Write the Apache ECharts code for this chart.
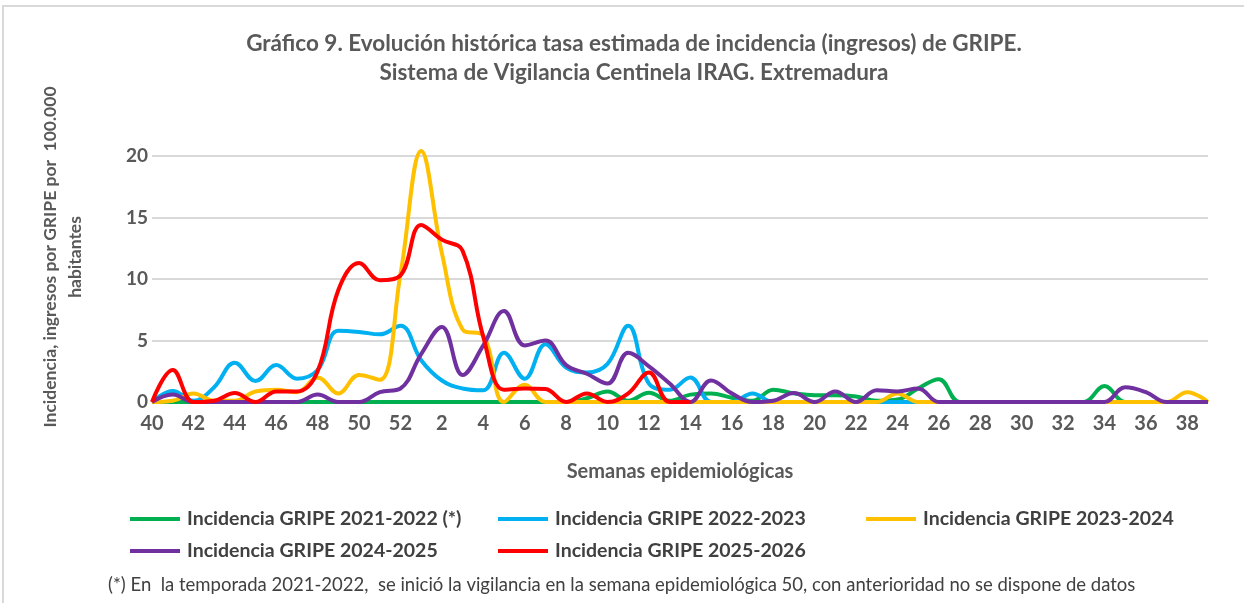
<!DOCTYPE html>
<html>
<head>
<meta charset="utf-8">
<script src="https://cdn.jsdelivr.net/npm/echarts@6/dist/echarts.min.js"></script>
<style>
  html, body { margin: 0; padding: 0; background: #fff; }
  #chart { width: 1244px; height: 603px; }
</style>
</head>
<body>
<div id="chart"></div>
<script>
// Semanas epidemiológicas 40..52, 1..39
const weeks = [40, 41, 42, 43, 44, 45, 46, 47, 48, 49, 50, 51, 52,
  1, 2, 3, 4, 5, 6, 7, 8, 9, 10, 11, 12, 13, 14, 15, 16, 17, 18, 19, 20,
  21, 22, 23, 24, 25, 26, 27, 28, 29, 30, 31, 32, 33, 34, 35, 36, 37, 38, 39];

const yTicks = [0, 5, 10, 15, 20];

const gripe2122 = [0, 0, 0, 0, 0, 0, 0, 0, 0, 0, 0, 0, 0,
  0, 0, 0, 0, 0, 0, 0, 0, 0.3, 0.85, 0.1, 0.75, 0.1, 0.6, 0.7, 0.35, 0.1, 1.0, 0.7, 0.55,
  0.55, 0.45, 0.1, 0.2, 1.1, 1.85, 0, 0, 0, 0, 0, 0, 0, 1.3, 0, 0, 0, 0, 0];

const gripe2223 = [0, 0.9, 0.1, 1.2, 3.2, 1.7, 3.0, 1.9, 2.6, 5.8, 5.7, 5.5, 6.2,
  3.4, 1.75, 1.1, 0.95, 4.0, 1.9, 4.7, 2.8, 2.4, 3.1, 6.2, 1.5, 1.0, 2.0, 0, 0, 0.7, 0, 0, 0,
  0, 0, 0, 0, 0, 0, 0, 0, 0, 0, 0, 0, 0, 0, 0, 0, 0, 0, 0];

const gripe2324 = [0, 0.1, 0.7, 0.1, 0.1, 0.86, 1.0, 0.8, 2.0, 0.7, 2.2, 1.8, 10.4,
  20.4, 12.1, 5.9, 5.4, 0, 1.4, 0, 0, 0, 0, 0, 0, 0, 0, 0, 0, 0, 0, 0, 0,
  0, 0, 0, 0.7, 0, 0, 0, 0, 0, 0, 0, 0, 0, 0, 0, 0, 0, 0.8, 0];

const gripe2425 = [0, 0.6, 0, 0, 0, 0, 0, 0, 0.6, 0, 0, 0.8, 1.1,
  3.9, 6.1, 2.2, 4.6, 7.4, 4.6, 5.0, 3.0, 2.3, 1.5, 4.0, 2.9, 1.5, 0, 1.75, 0.7, 0, 0.1, 0.73, 0,
  0.86, 0, 0.95, 0.86, 1.1, 0, 0, 0, 0, 0, 0, 0, 0, 0, 1.2, 0.8, 0, 0, 0];

const gripe2526 = [0, 2.6, 0, 0.1, 0.73, 0, 0.86, 0.86, 2.5, 9.1, 11.3, 9.9, 10.3,
  14.4, 13.2, 12.3, 5.3, 1.0, 1.1, 1.05, 0, 0.7, 0, 0.7, 2.4, 0, 0];

const seriesNames = [
  'Incidencia GRIPE 2021-2022 (*)',
  'Incidencia GRIPE 2022-2023',
  'Incidencia GRIPE 2023-2024',
  'Incidencia GRIPE 2024-2025',
  'Incidencia GRIPE 2025-2026'
];
const seriesData = [gripe2122, gripe2223, gripe2324, gripe2425, gripe2526];
const colors = ['#00B050', '#00B0F0', '#FFC000', '#7030A0', '#FF0000'];

const FONT = 'Lato, "Open Sans", sans-serif';
const TXT = '#595959';

const chart = echarts.init(document.getElementById('chart'));

// legend positions: two rows, three columns
const legendPos = [[125, 504], [493, 504], [861, 504], [125, 536], [493, 536]];

const option = {
  animation: false,
  color: colors,
  grid: { left: 152, right: 36, top: 156, bottom: 201 },
  legend: seriesNames.map((name, i) => ({
    data: [name],
    left: legendPos[i][0],
    top: legendPos[i][1],
    icon: 'rect',
    itemWidth: 50,
    itemHeight: 4,
    itemGap: 0,
    textStyle: { fontFamily: FONT, fontSize: 19.5, fontWeight: 'bold', color: '#404040', padding: [0, 0, 0, 2] }
  })),
  xAxis: {
    type: 'category',
    boundaryGap: false,
    data: weeks,
    name: 'Semanas epidemiológicas',
    nameLocation: 'middle',
    nameGap: 60,
    nameTextStyle: { fontFamily: FONT, fontSize: 20, fontWeight: 'bold', color: TXT },
    axisLine: { lineStyle: { color: '#d9d9d9', width: 2 } },
    axisTick: { show: false },
    axisLabel: {
      interval: 1,
      margin: 12,
      fontFamily: FONT, fontSize: 20, fontWeight: 'bold', color: TXT
    }
  },
  yAxis: {
    type: 'value',
    min: yTicks[0],
    max: yTicks[yTicks.length - 1],
    interval: 5,
    axisLine: { show: false },
    axisTick: { show: false },
    splitLine: { lineStyle: { color: '#d9d9d9', width: 2 } },
    axisLabel: { margin: 4, fontFamily: FONT, fontSize: 19, fontWeight: 'bold', color: TXT }
  },
  series: seriesNames.map((name, i) => ({
    name: name,
    type: 'line',
    data: seriesData[i],
    smooth: 0.4,
    clip: false,
    showSymbol: false,
    symbol: 'none',
    lineStyle: { width: 4, color: colors[i] },
    itemStyle: { color: colors[i] },
    z: 2 + i
  })),
  graphic: [
    {
      type: 'rect',
      shape: { x: 3, y: 6, width: 1300, height: 700 },
      style: { fill: 'none', stroke: '#d9d9d9', lineWidth: 2 },
      silent: true
    },
    {
      type: 'text',
      x: 634, y: 44,
      style: {
        text: 'Gráfico 9. Evolución histórica tasa estimada de incidencia (ingresos) de GRIPE.',
        align: 'center', verticalAlign: 'middle',
        font: 'bold 22.5px ' + FONT, fill: TXT
      }
    },
    {
      type: 'text',
      x: 634, y: 73,
      style: {
        text: 'Sistema de Vigilancia Centinela IRAG. Extremadura',
        align: 'center', verticalAlign: 'middle',
        font: 'bold 22.5px ' + FONT, fill: TXT
      }
    },
    {
      type: 'text',
      x: 50, y: 257,
      rotation: Math.PI / 2,
      style: {
        text: 'Incidencia, ingresos por GRIPE por  100.000',
        align: 'center', verticalAlign: 'middle',
        font: 'bold 17.5px ' + FONT, fill: TXT
      }
    },
    {
      type: 'text',
      x: 75, y: 257,
      rotation: Math.PI / 2,
      style: {
        text: 'habitantes',
        align: 'center', verticalAlign: 'middle',
        font: 'bold 17.5px ' + FONT, fill: TXT
      }
    },
    {
      type: 'text',
      x: 108, y: 585,
      style: {
        text: '(*) En  la temporada 2021-2022,  se inició la vigilancia en la semana epidemiológica 50, con anterioridad no se dispone de datos',
        align: 'left', verticalAlign: 'middle',
        font: '18.5px ' + FONT, fill: '#404040'
      }
    }
  ]
};

chart.setOption(option);
</script>
</body>
</html>
